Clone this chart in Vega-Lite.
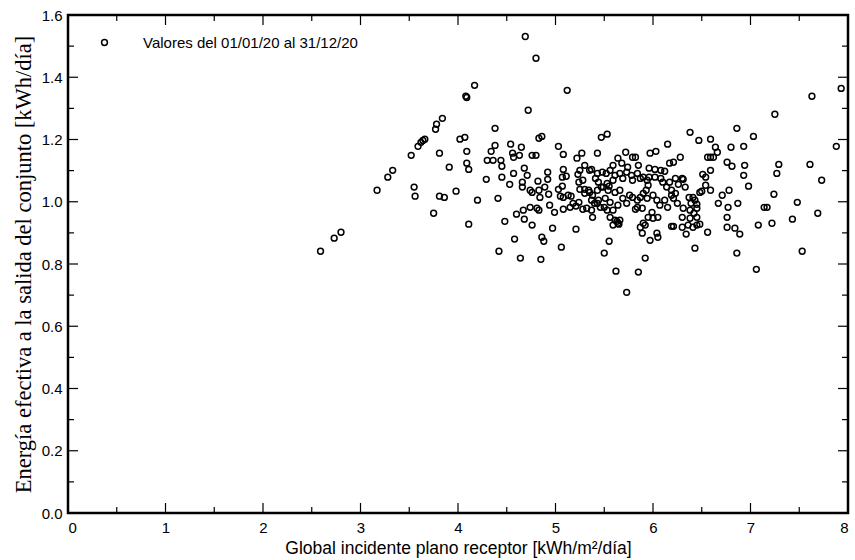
{
  "$schema": "https://vega.github.io/schema/vega-lite/v6.json",
  "width": 780,
  "height": 498,
  "autosize": {"type": "none"},
  "padding": {"left": 68, "top": 15, "right": 7, "bottom": 47},
  "background": "white",
  "datasets": {
    "main": [
    {"g":2.59,"e":0.841},{"g":2.73,"e":0.883},{"g":2.80,"e":0.902},{"g":3.17,"e":1.037},{"g":3.28,"e":1.079},
    {"g":3.33,"e":1.101},{"g":3.52,"e":1.149},{"g":3.55,"e":1.047},{"g":3.56,"e":1.018},{"g":3.59,"e":1.178},
    {"g":3.62,"e":1.191},{"g":3.64,"e":1.197},{"g":3.66,"e":1.201},{"g":3.75,"e":0.963},{"g":3.77,"e":1.233},
    {"g":3.78,"e":1.249},{"g":3.81,"e":1.156},{"g":3.81,"e":1.018},{"g":3.84,"e":1.268},{"g":3.86,"e":1.014},
    {"g":3.91,"e":1.111},{"g":3.98,"e":1.034},{"g":4.02,"e":1.201},{"g":4.07,"e":1.207},{"g":4.08,"e":1.339},
    {"g":4.09,"e":1.335},{"g":4.09,"e":1.162},{"g":4.09,"e":1.124},{"g":4.11,"e":1.104},{"g":4.11,"e":0.928},
    {"g":4.17,"e":1.374},{"g":4.20,"e":1.005},{"g":4.29,"e":1.072},{"g":4.30,"e":1.133},{"g":4.34,"e":1.162},
    {"g":4.36,"e":1.133},{"g":4.38,"e":1.236},{"g":4.38,"e":1.181},{"g":4.41,"e":1.011},{"g":4.42,"e":0.841},
    {"g":4.44,"e":1.133},{"g":4.45,"e":1.114},{"g":4.45,"e":1.079},{"g":4.48,"e":0.937},{"g":4.53,"e":1.056},
    {"g":4.54,"e":1.185},{"g":4.56,"e":1.156},{"g":4.57,"e":1.143},{"g":4.57,"e":1.091},{"g":4.58,"e":0.880},
    {"g":4.60,"e":0.960},{"g":4.63,"e":1.149},{"g":4.64,"e":0.819},{"g":4.65,"e":1.175},{"g":4.66,"e":1.063},
    {"g":4.66,"e":1.047},{"g":4.67,"e":0.973},{"g":4.68,"e":1.108},{"g":4.68,"e":0.944},{"g":4.69,"e":1.531},
    {"g":4.71,"e":1.085},{"g":4.72,"e":1.294},{"g":4.74,"e":1.037},{"g":4.76,"e":1.030},{"g":4.74,"e":0.982},
    {"g":4.76,"e":1.149},{"g":4.80,"e":1.149},{"g":4.76,"e":0.925},{"g":4.80,"e":1.461},{"g":4.82,"e":1.066},
    {"g":4.84,"e":1.014},{"g":4.83,"e":1.037},{"g":4.81,"e":0.979},{"g":4.83,"e":0.973},{"g":4.83,"e":1.204},
    {"g":4.86,"e":1.210},{"g":4.86,"e":0.886},{"g":4.88,"e":0.873},{"g":4.85,"e":0.815},{"g":4.89,"e":1.047},
    {"g":4.92,"e":1.072},{"g":4.92,"e":1.095},{"g":4.93,"e":1.024},{"g":4.94,"e":0.989},{"g":4.97,"e":0.915},
    {"g":4.99,"e":0.966},{"g":5.03,"e":1.178},{"g":5.03,"e":1.040},{"g":5.05,"e":1.018},{"g":5.08,"e":1.014},
    {"g":5.07,"e":1.079},{"g":5.08,"e":1.104},{"g":5.11,"e":1.082},{"g":5.07,"e":1.050},{"g":5.08,"e":0.976},
    {"g":5.08,"e":1.152},{"g":5.13,"e":1.021},{"g":5.06,"e":0.854},{"g":5.12,"e":1.358},{"g":5.16,"e":1.018},
    {"g":5.15,"e":0.982},{"g":5.18,"e":0.995},{"g":5.21,"e":0.986},{"g":5.24,"e":0.998},{"g":5.21,"e":0.912},
    {"g":5.22,"e":1.140},{"g":5.27,"e":1.156},{"g":5.23,"e":1.088},{"g":5.25,"e":1.101},{"g":5.30,"e":1.117},
    {"g":5.35,"e":1.101},{"g":5.24,"e":1.063},{"g":5.28,"e":1.069},{"g":5.25,"e":1.040},{"g":5.30,"e":1.040},
    {"g":5.30,"e":1.027},{"g":5.34,"e":1.037},{"g":5.38,"e":1.021},{"g":5.32,"e":0.979},{"g":5.37,"e":0.973},
    {"g":5.38,"e":0.950},{"g":5.28,"e":0.976},{"g":5.40,"e":0.995},{"g":5.43,"e":1.156},{"g":5.47,"e":1.207},
    {"g":5.53,"e":1.217},{"g":5.64,"e":1.140},{"g":5.72,"e":1.159},{"g":5.79,"e":1.143},{"g":5.82,"e":1.143},
    {"g":5.59,"e":1.117},{"g":5.68,"e":1.124},{"g":5.74,"e":1.111},{"g":5.85,"e":1.117},{"g":5.37,"e":1.104},
    {"g":5.48,"e":1.095},{"g":5.41,"e":1.075},{"g":5.44,"e":1.063},{"g":5.56,"e":1.101},{"g":5.61,"e":1.085},
    {"g":5.59,"e":1.069},{"g":5.53,"e":1.059},{"g":5.66,"e":1.091},{"g":5.69,"e":1.075},{"g":5.73,"e":1.095},
    {"g":5.78,"e":1.085},{"g":5.79,"e":1.069},{"g":5.84,"e":1.091},{"g":5.87,"e":1.075},{"g":5.90,"e":1.079},
    {"g":5.94,"e":1.069},{"g":5.96,"e":1.079},{"g":5.95,"e":1.053},{"g":5.96,"e":1.108},{"g":6.02,"e":1.104},
    {"g":6.08,"e":1.101},{"g":6.12,"e":1.098},{"g":6.17,"e":1.124},{"g":6.21,"e":1.127},{"g":6.02,"e":1.079},
    {"g":6.08,"e":1.075},{"g":6.10,"e":1.063},{"g":6.17,"e":1.063},{"g":6.14,"e":1.047},{"g":6.19,"e":1.037},
    {"g":5.35,"e":1.030},{"g":5.43,"e":1.037},{"g":5.37,"e":1.005},{"g":5.43,"e":0.995},{"g":5.46,"e":0.982},
    {"g":5.49,"e":1.047},{"g":5.54,"e":1.037},{"g":5.51,"e":1.011},{"g":5.56,"e":0.998},{"g":5.53,"e":0.973},
    {"g":5.59,"e":0.973},{"g":5.61,"e":1.030},{"g":5.66,"e":1.037},{"g":5.69,"e":1.011},{"g":5.64,"e":0.989},
    {"g":5.73,"e":0.995},{"g":5.76,"e":1.021},{"g":5.79,"e":1.014},{"g":5.84,"e":1.005},{"g":5.87,"e":1.014},
    {"g":5.90,"e":1.027},{"g":5.93,"e":1.037},{"g":5.84,"e":0.982},{"g":5.89,"e":0.979},{"g":5.82,"e":0.976},
    {"g":5.94,"e":1.011},{"g":6.00,"e":1.021},{"g":6.04,"e":1.005},{"g":6.07,"e":0.989},{"g":6.12,"e":1.005},
    {"g":6.15,"e":0.982},{"g":6.19,"e":1.021},{"g":5.56,"e":0.950},{"g":5.61,"e":0.941},{"g":5.64,"e":0.931},
    {"g":5.66,"e":0.941},{"g":5.59,"e":0.925},{"g":5.99,"e":0.966},{"g":5.95,"e":0.950},{"g":6.00,"e":0.947},
    {"g":6.05,"e":0.950},{"g":5.90,"e":0.931},{"g":5.87,"e":0.918},{"g":5.92,"e":0.925},{"g":5.89,"e":0.899},
    {"g":5.97,"e":0.876},{"g":6.04,"e":0.899},{"g":6.05,"e":0.886},{"g":6.19,"e":0.921},{"g":5.55,"e":0.873},
    {"g":5.50,"e":0.835},{"g":5.92,"e":0.819},{"g":5.62,"e":0.777},{"g":5.85,"e":0.774},{"g":5.73,"e":0.709},
    {"g":6.15,"e":1.185},{"g":5.97,"e":1.156},{"g":6.03,"e":1.162},{"g":7.93,"e":1.364},{"g":7.63,"e":1.339},
    {"g":7.25,"e":1.281},{"g":6.38,"e":1.223},{"g":6.86,"e":1.236},{"g":7.03,"e":1.210},{"g":6.47,"e":1.197},
    {"g":6.59,"e":1.201},{"g":6.64,"e":1.175},{"g":6.66,"e":1.159},{"g":6.80,"e":1.175},{"g":6.93,"e":1.178},
    {"g":7.88,"e":1.178},{"g":6.56,"e":1.143},{"g":6.59,"e":1.143},{"g":6.62,"e":1.143},{"g":6.28,"e":1.143},
    {"g":6.76,"e":1.127},{"g":6.81,"e":1.114},{"g":6.94,"e":1.117},{"g":7.29,"e":1.120},{"g":7.27,"e":1.091},
    {"g":7.61,"e":1.120},{"g":6.59,"e":1.101},{"g":6.51,"e":1.088},{"g":6.54,"e":1.079},{"g":6.93,"e":1.085},
    {"g":7.73,"e":1.069},{"g":6.23,"e":1.075},{"g":6.30,"e":1.075},{"g":6.31,"e":1.072},{"g":6.26,"e":1.056},
    {"g":6.33,"e":1.047},{"g":6.54,"e":1.053},{"g":6.50,"e":1.034},{"g":6.59,"e":1.037},{"g":6.48,"e":1.030},
    {"g":6.98,"e":1.050},{"g":6.78,"e":1.037},{"g":6.71,"e":1.021},{"g":7.24,"e":1.024},{"g":6.23,"e":1.027},
    {"g":6.21,"e":1.011},{"g":6.25,"e":0.995},{"g":6.37,"e":1.014},{"g":6.41,"e":1.014},{"g":6.43,"e":1.005},
    {"g":6.39,"e":0.995},{"g":6.45,"e":0.992},{"g":6.45,"e":0.979},{"g":6.38,"e":0.973},{"g":6.42,"e":0.963},
    {"g":6.45,"e":0.950},{"g":6.38,"e":0.947},{"g":6.31,"e":0.979},{"g":6.30,"e":0.950},{"g":6.67,"e":0.995},
    {"g":6.77,"e":0.982},{"g":6.87,"e":0.995},{"g":7.14,"e":0.982},{"g":7.17,"e":0.982},{"g":7.48,"e":0.998},
    {"g":7.69,"e":0.963},{"g":6.76,"e":0.950},{"g":6.21,"e":0.921},{"g":6.30,"e":0.918},{"g":6.34,"e":0.896},
    {"g":6.36,"e":0.925},{"g":6.41,"e":0.918},{"g":6.45,"e":0.925},{"g":6.48,"e":0.928},{"g":6.56,"e":0.902},
    {"g":6.76,"e":0.918},{"g":6.84,"e":0.915},{"g":6.89,"e":0.896},{"g":7.08,"e":0.925},{"g":7.22,"e":0.931},
    {"g":7.43,"e":0.944},{"g":6.43,"e":0.851},{"g":6.86,"e":0.835},{"g":7.53,"e":0.841},{"g":7.06,"e":0.783},
    {"g":5.43,"e":1.091},{"g":5.52,"e":1.091},{"g":5.47,"e":1.047},{"g":5.55,"e":1.050},{"g":5.44,"e":1.005},
    {"g":5.50,"e":0.982},{"g":5.63,"e":0.937},{"g":5.65,"e":0.928}
    ],
    "xt": [{"v":0.5},{"v":1},{"v":1.5},{"v":2},{"v":2.5},{"v":3},{"v":3.5},{"v":4},{"v":4.5},{"v":5},{"v":5.5},{"v":6},{"v":6.5},{"v":7},{"v":7.5}],
    "yt": [{"v":0.1},{"v":0.2},{"v":0.3},{"v":0.4},{"v":0.5},{"v":0.6},{"v":0.7},{"v":0.8},{"v":0.9},{"v":1.0},{"v":1.1},{"v":1.2},{"v":1.3},{"v":1.4},{"v":1.5}]
  },
  "layer": [
    {
      "data": {"name": "main"},
      "mark": {"type": "point", "filled": false, "size": 34, "strokeWidth": 1.5, "opacity": 1},
      "encoding": {
        "x": {"field": "g", "type": "quantitative", "scale": {"domain": [0, 8], "nice": false, "zero": false},
          "axis": {"orient": "bottom", "values": [0,1,2,3,4,5,6,7,8], "ticks": false, "domain": false, "grid": false, "labelPadding": 7, "title": "Global incidente plano receptor [kWh/m²/día]", "titleFont": "Liberation Sans", "titleFontSize": 17.5, "titleFontWeight": "normal", "titlePadding": 4}},
        "y": {"field": "e", "type": "quantitative", "scale": {"domain": [0, 1.6], "nice": false, "zero": false},
          "axis": {"orient": "left", "values": [0,0.2,0.4,0.6,0.8,1,1.2,1.4,1.6], "format": ".1f", "ticks": false, "domain": false, "grid": false, "labelPadding": 6, "title": "Energía efectiva a la salida del conjunto [kWh/día]", "titleFont": "Liberation Serif", "titleFontSize": 22.5, "titleFontWeight": "normal", "titlePadding": 6}},
        "color": {"datum": "Valores del 01/01/20 al 31/12/20", "type": "nominal", "scale": {"range": ["black"]},
          "legend": {"orient": "none", "legendX": 29, "legendY": 20, "title": null, "symbolType": "circle", "symbolSize": 34, "symbolStrokeWidth": 1.5,
            "labelFont": "Liberation Sans", "labelFontSize": 15, "labelColor": "black", "labelOffset": 31, "labelLimit": 0}}
      }
    },
    {
      "data": {"name": "xt"},
      "transform": [{"filter": "datum.v % 1 === 0"}],
      "mark": {"type": "rule", "color": "black", "strokeWidth": 1.2, "y2Offset": -10},
      "encoding": {
        "x": {"field": "v", "type": "quantitative",
          "axis": {"orient": "bottom", "values": [0,1,2,3,4,5,6,7,8], "ticks": false, "domain": false, "grid": false, "labelPadding": 7, "title": "Global incidente plano receptor [kWh/m²/día]", "titleFont": "Liberation Sans", "titleFontSize": 17.5, "titleFontWeight": "normal", "titlePadding": 4}},
        "y": {"datum": 0, "type": "quantitative",
          "axis": {"orient": "left", "values": [0,0.2,0.4,0.6,0.8,1,1.2,1.4,1.6], "format": ".1f", "ticks": false, "domain": false, "grid": false, "labelPadding": 6, "title": "Energía efectiva a la salida del conjunto [kWh/día]", "titleFont": "Liberation Serif", "titleFontSize": 22.5, "titleFontWeight": "normal", "titlePadding": 6}},
        "y2": {"datum": 0}
      }
    },
    {
      "data": {"name": "xt"},
      "transform": [{"filter": "datum.v % 1 !== 0"}],
      "mark": {"type": "rule", "color": "black", "strokeWidth": 1.2, "y2Offset": -6},
      "encoding": {
        "x": {"field": "v", "type": "quantitative",
          "axis": {"orient": "bottom", "values": [0,1,2,3,4,5,6,7,8], "ticks": false, "domain": false, "grid": false, "labelPadding": 7, "title": "Global incidente plano receptor [kWh/m²/día]", "titleFont": "Liberation Sans", "titleFontSize": 17.5, "titleFontWeight": "normal", "titlePadding": 4}},
        "y": {"datum": 0, "type": "quantitative",
          "axis": {"orient": "left", "values": [0,0.2,0.4,0.6,0.8,1,1.2,1.4,1.6], "format": ".1f", "ticks": false, "domain": false, "grid": false, "labelPadding": 6, "title": "Energía efectiva a la salida del conjunto [kWh/día]", "titleFont": "Liberation Serif", "titleFontSize": 22.5, "titleFontWeight": "normal", "titlePadding": 6}},
        "y2": {"datum": 0}
      }
    },
    {
      "data": {"name": "xt"},
      "transform": [{"filter": "datum.v % 1 === 0"}],
      "mark": {"type": "rule", "color": "black", "strokeWidth": 1.2, "y2Offset": 10},
      "encoding": {
        "x": {"field": "v", "type": "quantitative",
          "axis": {"orient": "bottom", "values": [0,1,2,3,4,5,6,7,8], "ticks": false, "domain": false, "grid": false, "labelPadding": 7, "title": "Global incidente plano receptor [kWh/m²/día]", "titleFont": "Liberation Sans", "titleFontSize": 17.5, "titleFontWeight": "normal", "titlePadding": 4}},
        "y": {"datum": 1.6, "type": "quantitative",
          "axis": {"orient": "left", "values": [0,0.2,0.4,0.6,0.8,1,1.2,1.4,1.6], "format": ".1f", "ticks": false, "domain": false, "grid": false, "labelPadding": 6, "title": "Energía efectiva a la salida del conjunto [kWh/día]", "titleFont": "Liberation Serif", "titleFontSize": 22.5, "titleFontWeight": "normal", "titlePadding": 6}},
        "y2": {"datum": 1.6}
      }
    },
    {
      "data": {"name": "xt"},
      "transform": [{"filter": "datum.v % 1 !== 0"}],
      "mark": {"type": "rule", "color": "black", "strokeWidth": 1.2, "y2Offset": 6},
      "encoding": {
        "x": {"field": "v", "type": "quantitative",
          "axis": {"orient": "bottom", "values": [0,1,2,3,4,5,6,7,8], "ticks": false, "domain": false, "grid": false, "labelPadding": 7, "title": "Global incidente plano receptor [kWh/m²/día]", "titleFont": "Liberation Sans", "titleFontSize": 17.5, "titleFontWeight": "normal", "titlePadding": 4}},
        "y": {"datum": 1.6, "type": "quantitative",
          "axis": {"orient": "left", "values": [0,0.2,0.4,0.6,0.8,1,1.2,1.4,1.6], "format": ".1f", "ticks": false, "domain": false, "grid": false, "labelPadding": 6, "title": "Energía efectiva a la salida del conjunto [kWh/día]", "titleFont": "Liberation Serif", "titleFontSize": 22.5, "titleFontWeight": "normal", "titlePadding": 6}},
        "y2": {"datum": 1.6}
      }
    },
    {
      "data": {"name": "yt"},
      "transform": [{"filter": "abs(datum.v * 5 - round(datum.v * 5)) < 0.001"}],
      "mark": {"type": "rule", "color": "black", "strokeWidth": 1.2, "x2Offset": 10},
      "encoding": {
        "y": {"field": "v", "type": "quantitative",
          "axis": {"orient": "left", "values": [0,0.2,0.4,0.6,0.8,1,1.2,1.4,1.6], "format": ".1f", "ticks": false, "domain": false, "grid": false, "labelPadding": 6, "title": "Energía efectiva a la salida del conjunto [kWh/día]", "titleFont": "Liberation Serif", "titleFontSize": 22.5, "titleFontWeight": "normal", "titlePadding": 6}},
        "x": {"datum": 0, "type": "quantitative",
          "axis": {"orient": "bottom", "values": [0,1,2,3,4,5,6,7,8], "ticks": false, "domain": false, "grid": false, "labelPadding": 7, "title": "Global incidente plano receptor [kWh/m²/día]", "titleFont": "Liberation Sans", "titleFontSize": 17.5, "titleFontWeight": "normal", "titlePadding": 4}},
        "x2": {"datum": 0}
      }
    },
    {
      "data": {"name": "yt"},
      "transform": [{"filter": "abs(datum.v * 5 - round(datum.v * 5)) >= 0.001"}],
      "mark": {"type": "rule", "color": "black", "strokeWidth": 1.2, "x2Offset": 6},
      "encoding": {
        "y": {"field": "v", "type": "quantitative",
          "axis": {"orient": "left", "values": [0,0.2,0.4,0.6,0.8,1,1.2,1.4,1.6], "format": ".1f", "ticks": false, "domain": false, "grid": false, "labelPadding": 6, "title": "Energía efectiva a la salida del conjunto [kWh/día]", "titleFont": "Liberation Serif", "titleFontSize": 22.5, "titleFontWeight": "normal", "titlePadding": 6}},
        "x": {"datum": 0, "type": "quantitative",
          "axis": {"orient": "bottom", "values": [0,1,2,3,4,5,6,7,8], "ticks": false, "domain": false, "grid": false, "labelPadding": 7, "title": "Global incidente plano receptor [kWh/m²/día]", "titleFont": "Liberation Sans", "titleFontSize": 17.5, "titleFontWeight": "normal", "titlePadding": 4}},
        "x2": {"datum": 0}
      }
    },
    {
      "data": {"name": "yt"},
      "transform": [{"filter": "abs(datum.v * 5 - round(datum.v * 5)) < 0.001"}],
      "mark": {"type": "rule", "color": "black", "strokeWidth": 1.2, "x2Offset": -10},
      "encoding": {
        "y": {"field": "v", "type": "quantitative",
          "axis": {"orient": "left", "values": [0,0.2,0.4,0.6,0.8,1,1.2,1.4,1.6], "format": ".1f", "ticks": false, "domain": false, "grid": false, "labelPadding": 6, "title": "Energía efectiva a la salida del conjunto [kWh/día]", "titleFont": "Liberation Serif", "titleFontSize": 22.5, "titleFontWeight": "normal", "titlePadding": 6}},
        "x": {"datum": 8, "type": "quantitative",
          "axis": {"orient": "bottom", "values": [0,1,2,3,4,5,6,7,8], "ticks": false, "domain": false, "grid": false, "labelPadding": 7, "title": "Global incidente plano receptor [kWh/m²/día]", "titleFont": "Liberation Sans", "titleFontSize": 17.5, "titleFontWeight": "normal", "titlePadding": 4}},
        "x2": {"datum": 8}
      }
    },
    {
      "data": {"name": "yt"},
      "transform": [{"filter": "abs(datum.v * 5 - round(datum.v * 5)) >= 0.001"}],
      "mark": {"type": "rule", "color": "black", "strokeWidth": 1.2, "x2Offset": -6},
      "encoding": {
        "y": {"field": "v", "type": "quantitative",
          "axis": {"orient": "left", "values": [0,0.2,0.4,0.6,0.8,1,1.2,1.4,1.6], "format": ".1f", "ticks": false, "domain": false, "grid": false, "labelPadding": 6, "title": "Energía efectiva a la salida del conjunto [kWh/día]", "titleFont": "Liberation Serif", "titleFontSize": 22.5, "titleFontWeight": "normal", "titlePadding": 6}},
        "x": {"datum": 8, "type": "quantitative",
          "axis": {"orient": "bottom", "values": [0,1,2,3,4,5,6,7,8], "ticks": false, "domain": false, "grid": false, "labelPadding": 7, "title": "Global incidente plano receptor [kWh/m²/día]", "titleFont": "Liberation Sans", "titleFontSize": 17.5, "titleFontWeight": "normal", "titlePadding": 4}},
        "x2": {"datum": 8}
      }
    }
  ],
  "config": {
    "view": {"stroke": "black", "strokeWidth": 2.5},
    "axis": {"labelFont": "Liberation Sans", "labelFontSize": 15, "labelColor": "black", "titleColor": "black"}
  }
}
